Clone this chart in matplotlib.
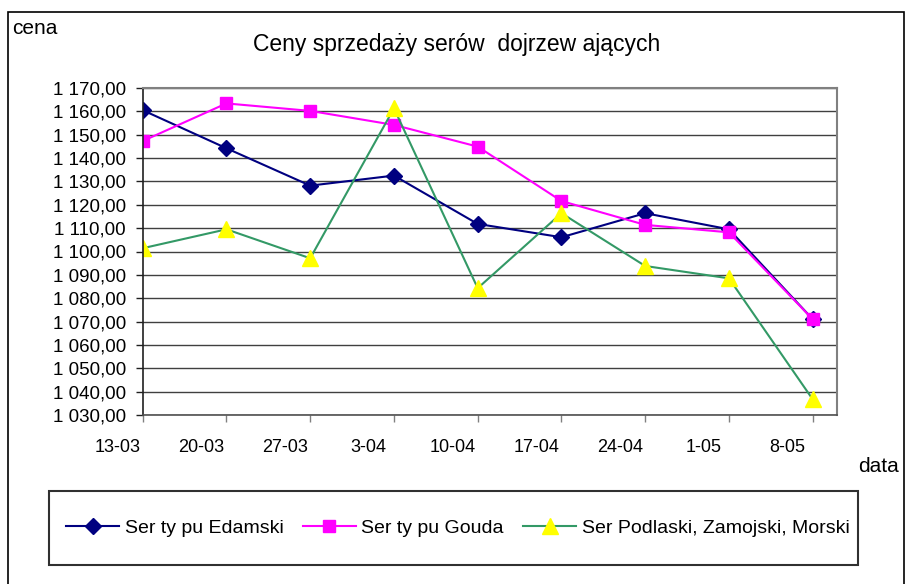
import matplotlib.pyplot as plt
from matplotlib.patches import Rectangle

daty = ['13-03', '20-03', '27-03', '3-04', '10-04', '17-04', '24-04', '1-05', '8-05']
edamski = [1160.5, 1144.2, 1128.2, 1132.5, 1111.8, 1106.1, 1116.4, 1109.5, 1071.0]
gouda = [1147.3, 1163.4, 1160.2, 1154.2, 1144.9, 1121.6, 1111.4, 1108.2, 1071.0]
podlaski = [1101.4, 1109.5, 1097.1, 1161.3, 1084.3, 1116.4, 1093.8, 1088.5, 1036.7]
y_ticks = list(range(1030, 1171, 10))

W, H = 905, 584
plt.rcParams['font.family'] = ['Liberation Sans', 'DejaVu Sans']

fig = plt.figure(figsize=(W / 100, H / 100), dpi=100)
ax = fig.add_axes([142.7 / W, 1 - 415 / H, (837 - 142.7) / W, (415 - 88) / H])

x = list(range(len(daty)))
ax.plot(x, edamski, color='#000080', lw=1.5, marker='D', ms=8,
        mfc='#000080', mec='#000080', label='Ser ty pu Edamski')
ax.plot(x, gouda, color='#FF00FF', lw=1.5, marker='s', ms=9,
        mfc='#FF00FF', mec='#FF00FF', label='Ser ty pu Gouda')
ax.plot(x, podlaski, color='#339966', lw=1.5, marker='^', ms=11,
        mfc='#FFFF00', mec='#FFFF00', label='Ser Podlaski, Zamojski, Morski')

ax.set_xlim(0, 8.29)
ax.set_ylim(1030, 1170)
ax.set_yticks(y_ticks)
ax.set_yticklabels([f'{v // 1000} {v % 1000:03d},00' for v in y_ticks], fontsize=13.5)
ax.set_xticks(x)
ax.set_xticklabels([])

# excel puts the date labels a bit to the left of the ticks
for i, d in enumerate(daty):
    ax.text(i - 0.3, -0.098, d, transform=ax.get_xaxis_transform(),
            fontsize=13, ha='center', va='center')

ax.tick_params(axis='y', length=5, width=1, pad=7, color='#202020')
ax.tick_params(axis='x', length=5, width=1, color='#808080')
ax.grid(axis='y', color='#404040', lw=1)
ax.set_axisbelow(True)

for s in ['top', 'right']:
    ax.spines[s].set_color('#808080')
    ax.spines[s].set_linewidth(1.5)
ax.spines['left'].set_color('#202020')
ax.spines['bottom'].set_color('#505050')
ax.spines['left'].set_linewidth(1.2)
ax.spines['bottom'].set_linewidth(1.2)

fig.text(457 / W, 1 - 45 / H, 'Ceny sprzedaży serów  dojrzew ających',
         fontsize=16.5, ha='center', va='center')
fig.text(12 / W, 1 - 29 / H, 'cena', fontsize=15, ha='left', va='center')
fig.text(858 / W, 1 - 466 / H, 'data', fontsize=15, ha='left', va='center')

# outer chart border (no bottom edge visible)
fig.add_artist(Rectangle((8 / W, -0.01), (904 - 8) / W, 1 - 12 / H + 0.01,
                         transform=fig.transFigure, fill=False, ec='black', lw=1.2))
# legend box
fig.add_artist(Rectangle((49 / W, 1 - 565 / H), (858 - 49) / W, (565 - 491) / H,
                         transform=fig.transFigure, fill=False, ec='#303030', lw=1.5))

fig.legend(loc='center', bbox_to_anchor=(458 / W, 1 - 528 / H), ncol=3,
           frameon=False, fontsize=14, handlelength=2.7, handletextpad=0.3,
           columnspacing=1.0)

fig.savefig('out.png', dpi=100)
